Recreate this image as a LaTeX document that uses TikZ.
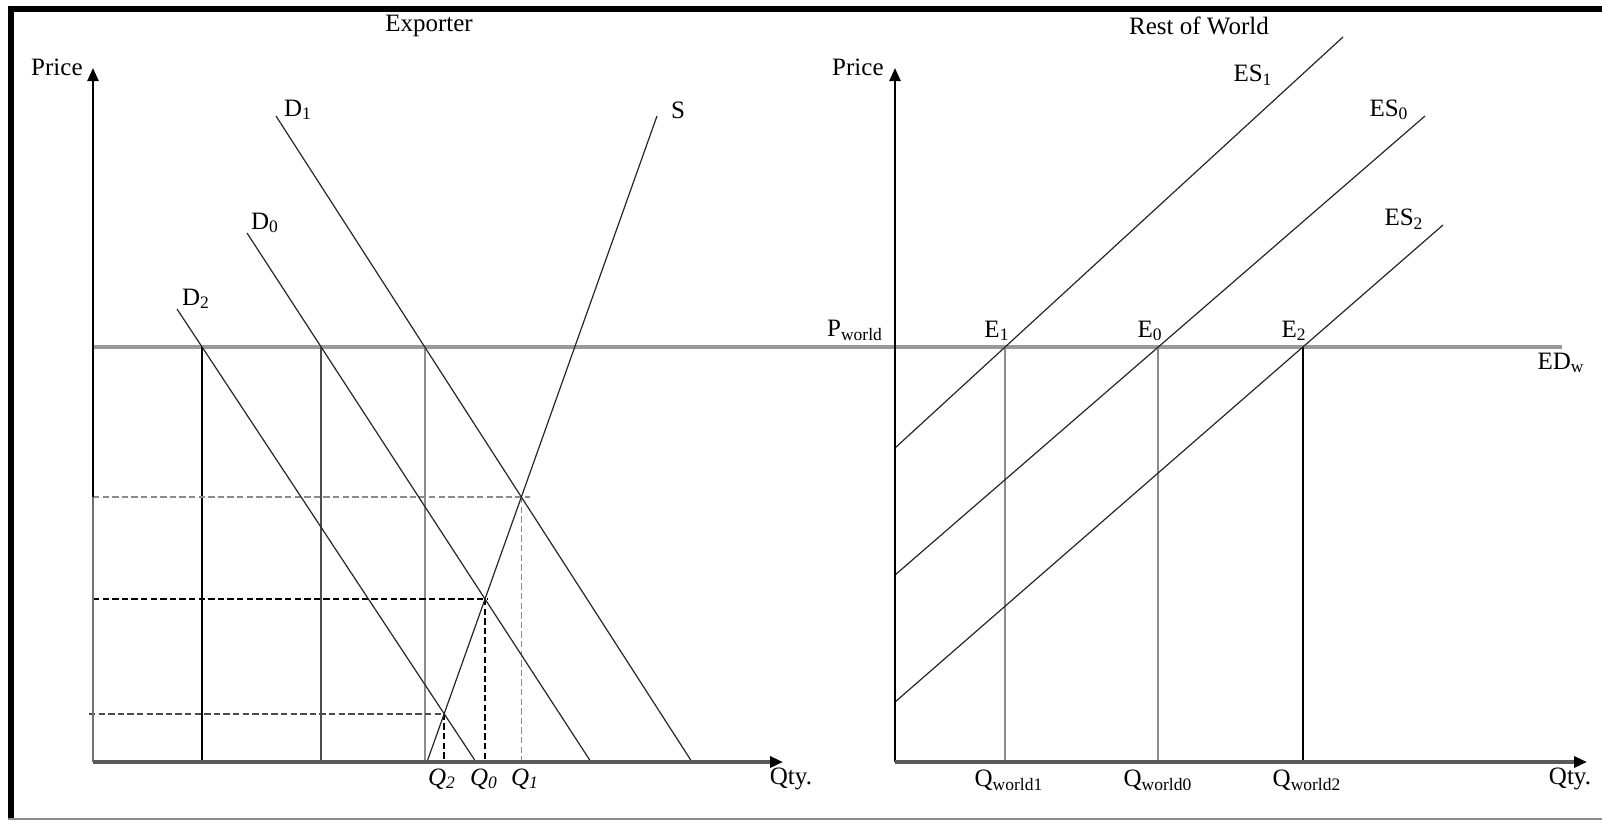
\documentclass[tikz,border=0pt]{standalone}
\usepackage{fontspec}
\setmainfont{Liberation Serif}
\usetikzlibrary{arrows.meta,calc}
\begin{document}
\begin{tikzpicture}[x=0.5pt,y=-0.5pt,
  lbl/.style={font=\fontsize{12.5}{15}\selectfont, inner sep=0pt},
  yaxis/.style={line width=1.2pt, black, -{Triangle[length=6.5pt,width=5.5pt]}},
  xaxis/.style={line width=1.6pt, black!65, arrows={-{Triangle[length=6.5pt,width=5.5pt,black]}}},
  curve/.style={line width=0.6pt, black!85},
  worldline/.style={line width=2pt, black!40},
  vline/.style={line width=0.8pt},
  dashline/.style={line width=0.75pt, dash pattern=on 3.2pt off 1.6pt},
  frameline/.style={line width=3pt, black}
]
\useasboundingbox (0,0) rectangle (1602,820);
% frame
\draw[frameline] (11,820) -- (11,9) -- (1602,9);
\draw[line width=0.8pt, black!45] (8,819) -- (1602,819);

% ---------- coordinates ----------
\coordinate (O1) at (93,762);
\coordinate (Ytop1) at (93,68);
\coordinate (Xend1) at (783,762);
\coordinate (O2) at (895,762);
\coordinate (Ytop2) at (895,68);
\coordinate (Xend2) at (1587,762);
\coordinate (PwL) at (92,347);
\coordinate (PwR) at (1562,347);

\coordinate (D1a) at (276,116); \coordinate (D1b) at (692,762);
\coordinate (D0a) at (247,233); \coordinate (D0b) at (591,762);
\coordinate (D2a) at (177,309); \coordinate (D2b) at (476,762);
\coordinate (Sa) at (657,116);  \coordinate (Sb) at (427,762);

\coordinate (ES1a) at (895,448); \coordinate (ES1b) at (1343,37);
\coordinate (ES0a) at (895,575); \coordinate (ES0b) at (1425,116);
\coordinate (ES2a) at (895,702); \coordinate (ES2b) at (1443,225);

% intersections
\coordinate (w1) at (intersection of D1a--D1b and PwL--PwR);
\coordinate (w0) at (intersection of D0a--D0b and PwL--PwR);
\coordinate (w2) at (intersection of D2a--D2b and PwL--PwR);
\coordinate (e1) at (intersection of D1a--D1b and Sa--Sb);
\coordinate (e0) at (intersection of D0a--D0b and Sa--Sb);
\coordinate (e2) at (intersection of D2a--D2b and Sa--Sb);
\coordinate (E1) at (intersection of ES1a--ES1b and PwL--PwR);
\coordinate (E0) at (intersection of ES0a--ES0b and PwL--PwR);
\coordinate (E2) at (intersection of ES2a--ES2b and PwL--PwR);

% ---------- world price line ----------
\draw[worldline] (PwL) -- (PwR);

% ---------- left panel ----------
\draw[vline, black] (w2) -- (w2 |- O1);
\draw[vline, black!70] (w0) -- (w0 |- O1);
\draw[vline, black!45] (w1) -- (w1 |- O1);

\draw[dashline, black!45] (e1 -| O1) -- ($(e1)+(9,0)$);
\draw[dashline, black!45] (e1) -- (e1 |- O1);
\draw[dashline, black] (e0 -| O1) -- ($(e0)+(3,0)$);
\draw[dashline, black] (e0) -- (e0 |- O1);
\draw[dashline, black!70] ($(e2 -| O1)+(-4,0)$) -- (e2);
\draw[dashline, black] (e2) -- (e2 |- O1);

\draw[curve] (D1a) -- (D1b);
\draw[curve] (D0a) -- (D0b);
\draw[curve] (D2a) -- (D2b);
\draw[curve] (Sa) -- (Sb);

\draw[yaxis] (O1) -- (Ytop1);
\draw[line width=1.2pt, black!55] (O1) -- (93,497);
\draw[xaxis] (O1) -- (Xend1);

% ---------- right panel ----------
\draw[vline, black!45] (E1) -- (E1 |- O2);
\draw[vline, black!45] (E0) -- (E0 |- O2);
\draw[vline, black] (E2) -- (E2 |- O2);

\draw[curve] (ES1a) -- (ES1b);
\draw[curve] (ES0a) -- (ES0b);
\draw[curve] (ES2a) -- (ES2b);

\draw[yaxis] (O2) -- (Ytop2);
\draw[xaxis] (O2) -- (Xend2);

% ---------- labels ----------
\node[lbl] (tExp) at (429,26) {Exporter};
\node[lbl] (tRow) at (1199,26) {Rest of World};
\node[lbl, anchor=base east] (pr1) at (83,75) {Price};
\node[lbl, anchor=base east] (pr2) at (884,75) {Price};

\node[lbl] (lD1) at (298,110) {D\textsubscript{1}};
\node[lbl] (lD0) at (265,223) {D\textsubscript{0}};
\node[lbl] (lD2) at (196,299) {D\textsubscript{2}};
\node[lbl] (lS) at (678,110) {S};

\node[lbl] (lQ2) at (442,779) {\textit{Q}\textsubscript{\textit{2}}};
\node[lbl] (lQ0) at (484,779) {\textit{Q}\textsubscript{\textit{0}}};
\node[lbl] (lQ1) at (525,779) {\textit{Q}\textsubscript{\textit{1}}};
\node[lbl] (qty1) at (791,779) {Qty.};
\node[lbl] (qty2) at (1570,779) {Qty.};

\node[lbl] (lPw) at (855,330) {P\textsubscript{world}};
\node[lbl] (lE1) at (997,331) {E\textsubscript{1}};
\node[lbl] (lE0) at (1150,331) {E\textsubscript{0}};
\node[lbl] (lE2) at (1294,331) {E\textsubscript{2}};
\node[lbl] (lED) at (1561,363) {ED\textsubscript{w}};
\node[lbl] (lES1) at (1253,75) {ES\textsubscript{1}};
\node[lbl] (lES0) at (1389,110) {ES\textsubscript{0}};
\node[lbl] (lES2) at (1404,219) {ES\textsubscript{2}};

\node[lbl] (lQw1) at (1009,780) {Q\textsubscript{world1}};
\node[lbl] (lQw0) at (1158,780) {Q\textsubscript{world0}};
\node[lbl] (lQw2) at (1307,780) {Q\textsubscript{world2}};
\end{tikzpicture}
\end{document}
